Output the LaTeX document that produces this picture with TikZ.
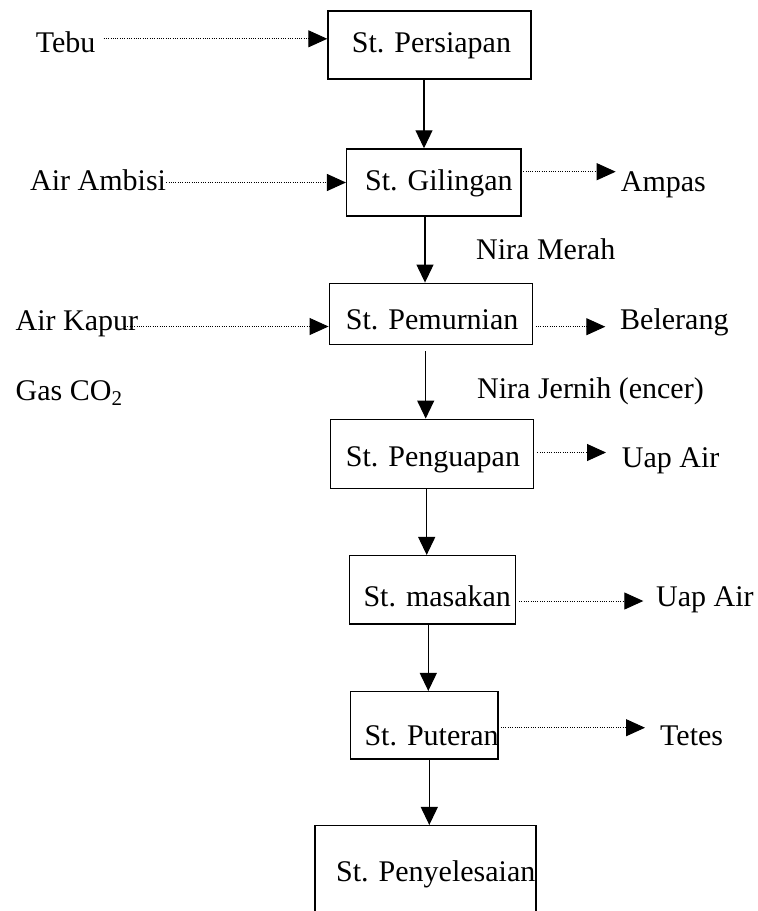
\documentclass[tikz,border=0pt]{standalone}
\usepackage{fontspec}
\setmainfont{Liberation Serif}
\usetikzlibrary{arrows.meta}
\begin{document}
\begin{tikzpicture}[x=1pt,y=-1pt,
  box/.style={draw, line width=1.5pt, inner sep=0pt, rectangle},
  txt/.style={anchor=base west, inner sep=0pt, font=\fontsize{30}{36}\selectfont},
  flow/.style={line width=1.2pt, -{Triangle[length=18pt,width=17pt]}},
  dotflow/.style={line width=1pt, dash pattern=on 1pt off 1.3pt, -{Triangle[length=19pt,width=17pt]}}]
\path[use as bounding box, clip] (0,0) rectangle (758,911);
\fill[white] (0,0) rectangle (758,911);
% boxes
\node[box, minimum width=203pt, minimum height=68pt] (persiapan) at (429.5,45) {};
\node[box, minimum width=174.3pt, minimum height=67pt] (gilingan) at (433.85,182.5) {};
\node[box, minimum width=203pt, minimum height=61pt] (pemurnian) at (430.8,313.8) {};
\node[box, minimum width=202.6pt, minimum height=69pt] (penguapan) at (432,453.8) {};
\node[box, minimum width=166.4pt, minimum height=68.3pt] (masakan) at (432.5,589.85) {};
\node[box, minimum width=147.3pt, minimum height=67.3pt] (puteran) at (424.35,725.35) {};
\node[box, minimum width=221pt, minimum height=140pt] (penyelesaian) at (425.5,895.7) {};
% box texts
\node[txt] (tpersiapan) at (351.7,52.7) {St. Persiapan};
\node[txt] (tgilingan) at (365,190) {St. Gilingan};
\node[txt] (tpemurnian) at (345.7,329.3) {St. Pemurnian};
\node[txt] (tpenguapan) at (345.7,466.7) {St. Penguapan};
\node[txt] (tmasakan) at (363.3,606.7) {St. masakan};
\node[txt] (tputeran) at (364.3,745) {St. Puteran};
\node[txt] (tpenyelesaian) at (336,881.7) {St. Penyelesaian};
% side labels
\node[txt] (tebu) at (35.7,52.3) {Tebu};
\node[txt] (ambisi) at (30,190.7) {Air Ambisi};
\node[txt] (ampas) at (620.7,191) {Ampas};
\node[txt] (nmerah) at (476,259) {Nira Merah};
\node[txt] (kapur) at (15.5,330.5) {Air Kapur};
\node[txt] (belerang) at (620,329) {Belerang};
\node[txt] (gas) at (15.5,400) {Gas CO\textsubscript{2}};
\node[txt] (njernih) at (477,398) {Nira Jernih (encer)};
\node[txt] (uap1) at (621.7,467.3) {Uap Air};
\node[txt] (uap2) at (656,606.7) {Uap Air};
\node[txt] (tetes) at (660,745.7) {Tetes};
% main flow
\draw[flow] (persiapan.south -| 424,0) -- (gilingan.north -| 424,0);
\draw[flow] (gilingan.south -| 425,0) -- (pemurnian.north -| 425,0);
\draw[flow, shorten <=6.4pt] (pemurnian.south -| 425.7,0) -- (penguapan.north -| 425.7,0);
\draw[flow] (penguapan.south -| 426.7,0) -- (masakan.north -| 426.7,0);
\draw[flow] (masakan.south -| 428.3,0) -- (puteran.north -| 428.3,0);
\draw[flow] (puteran.south -| 429.3,0) -- (penyelesaian.north -| 429.3,0);
% dotted inputs / outputs
\draw[dotflow, shorten <=8pt] (tebu.east |- 0,38.8) -- (persiapan.west |- 0,38.8);
\draw[dotflow] (ambisi.east |- 0,182.5) -- (gilingan.west |- 0,182.5);
\draw[dotflow, shorten <=1.5pt, shorten >=5pt] (gilingan.east |- 0,171.7) -- (ampas.west |- 0,171.7);
\draw[dotflow, shorten <=109.5pt] (kapur.west |- 0,326.5) -- (pemurnian.west |- 0,326.5);
\draw[dotflow, shorten <=2.7pt, shorten >=14.7pt] (pemurnian.east |- 0,326.7) -- (belerang.west |- 0,326.7);
\draw[dotflow, shorten <=3.4pt, shorten >=15.7pt] (penguapan.east |- 0,452.5) -- (uap1.west |- 0,452.5);
\draw[dotflow, shorten <=2.6pt, shorten >=12.7pt] (masakan.east |- 0,601) -- (uap2.west |- 0,601);
\draw[dotflow, shorten <=2pt, shorten >=15pt] (puteran.east |- 0,727.7) -- (tetes.west |- 0,727.7);
\end{tikzpicture}
\end{document}
